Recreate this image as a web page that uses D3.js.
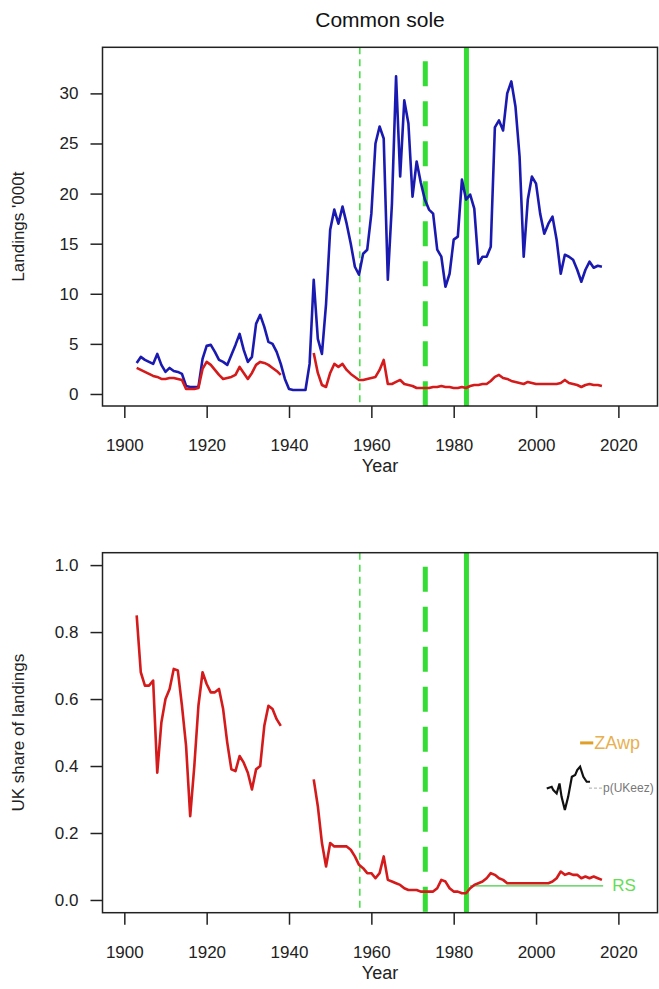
<!DOCTYPE html>
<html>
<head>
<meta charset="utf-8">
<script src="https://cdn.jsdelivr.net/npm/d3@7"></script>
<style>
  body { margin: 0; background: #fff; }
  svg text { font-family: "Liberation Sans", Arial, sans-serif; }
</style>
</head>
<body>
<div id="chart"></div>
<script>
// ---- data ----
const years = d3.range(1903, 2017);

// total landings, '000 t
const totalLandings = [
  3.1, 3.7, 3.4, 3.2, 3.0, 4.0, 2.9, 2.2, 2.6, 2.3,
  2.2, 2.0, 0.8, 0.7, 0.7, 0.7, 3.5, 4.8, 4.9, 4.2,
  3.4, 3.2, 2.9, 3.9, 4.9, 6.0, 4.4, 3.2, 3.7, 7.0,
  7.9, 6.7, 5.2, 5.0, 4.2, 3.0, 1.5, 0.5, 0.4, 0.4,
  0.4, 0.4, 3.0, 11.4, 5.5, 4.0, 9.0, 16.4, 18.4, 17.0,
  18.7, 17.0, 15.0, 12.7, 11.9, 14.0, 14.4, 18.0, 25.0, 26.7,
  25.5, 11.4, 19.0, 31.7, 21.7, 29.3, 27.0, 19.7, 23.2, 21.1,
  19.4, 18.4, 18.0, 14.4, 13.7, 10.7, 12.0, 15.4, 15.7, 21.4,
  19.4, 19.9, 18.5, 13.0, 13.7, 13.7, 14.7, 26.6, 27.3, 26.3,
  30.0, 31.2, 28.7, 23.7, 13.7, 19.4, 21.7, 21.0, 18.0, 16.0,
  17.0, 17.7, 15.4, 12.0, 13.9, 13.7, 13.4, 12.4, 11.2, 12.4,
  13.2, 12.6, 12.8, 12.7
];

// UK landings, '000 t (no record 1939-1945)
const ukLandings = [
  2.6, 2.4, 2.2, 2.0, 1.8, 1.7, 1.5, 1.5, 1.6, 1.6,
  1.5, 1.4, 0.5, 0.5, 0.5, 0.6, 2.5, 3.2, 2.9, 2.4,
  1.9, 1.5, 1.6, 1.7, 1.9, 2.7, 2.1, 1.5, 2.1, 2.9,
  3.2, 3.1, 2.9, 2.6, 2.3, 1.9, null, null, null, null,
  null, null, null, 4.1, 2.1, 0.9, 0.7, 2.1, 3.0, 2.7,
  3.0, 2.4, 2.0, 1.7, 1.4, 1.4, 1.5, 1.6, 1.7, 2.4,
  3.4, 1.0, 1.0, 1.2, 1.4, 1.0, 0.9, 0.8, 0.6, 0.6,
  0.6, 0.6, 0.7, 0.7, 0.8, 0.7, 0.7, 0.6, 0.6, 0.7,
  0.6, 0.8, 0.9, 0.9, 1.0, 1.0, 1.3, 1.7, 1.9, 1.6,
  1.5, 1.3, 1.2, 1.1, 1.0, 1.2, 1.1, 1.0, 1.0, 1.0,
  1.0, 1.0, 1.0, 1.1, 1.4, 1.1, 1.0, 0.9, 0.7, 0.9,
  1.0, 0.9, 0.9, 0.8
];

// UK share of landings
const ukShare = [
  0.85, 0.68, 0.64, 0.64, 0.655, 0.38, 0.53, 0.60, 0.63, 0.69,
  0.685, 0.58, 0.46, 0.25, 0.40, 0.58, 0.68, 0.645, 0.62, 0.62,
  0.63, 0.57, 0.47, 0.39, 0.385, 0.43, 0.41, 0.38, 0.33, 0.39,
  0.40, 0.52, 0.58, 0.57, 0.54, 0.52, null, null, null, null,
  null, null, null, 0.36, 0.28, 0.17, 0.10, 0.17, 0.16, 0.16,
  0.16, 0.16, 0.15, 0.13, 0.105, 0.095, 0.08, 0.08, 0.065, 0.08,
  0.13, 0.06, 0.055, 0.05, 0.045, 0.035, 0.03, 0.03, 0.03, 0.025,
  0.025, 0.025, 0.025, 0.035, 0.06, 0.055, 0.035, 0.025, 0.025, 0.02,
  0.02, 0.035, 0.045, 0.05, 0.055, 0.065, 0.08, 0.075, 0.065, 0.06,
  0.05, 0.05, 0.05, 0.05, 0.05, 0.05, 0.05, 0.05, 0.05, 0.05,
  0.05, 0.055, 0.065, 0.085, 0.075, 0.08, 0.075, 0.075, 0.065, 0.07,
  0.065, 0.07, 0.065, 0.06
];

// small p(UKeez) trace and reference levels in the lower panel
const pUKeezYears = [2002.6, 2003.8, 2004.2, 2005.0, 2005.7, 2006.2, 2007.0, 2007.8,
                     2008.7, 2009.5, 2010.0, 2010.7, 2011.5, 2012.3, 2013.1];
const pUKeezValues = [0.333, 0.338, 0.328, 0.318, 0.348, 0.308, 0.269, 0.308,
                      0.368, 0.373, 0.388, 0.398, 0.368, 0.353, 0.353];
const zawpYears = [2010.7, 2013.9];
const zawpValue = 0.469;
const rsYears = [1984, 2016.3];
const rsValue = 0.042;

// policy markers (years) and ticks
const markerYears = [1957.2, 1973.1, 1983.1];
const xTicks = [1900, 1920, 1940, 1960, 1980, 2000, 2020];
const yTicksTop = [0, 5, 10, 15, 20, 25, 30];
const yTicksBottom = [0, 0.2, 0.4, 0.6, 0.8, 1.0];

// ---- layout ----
const width = 659, height = 989;
const left = 102.5, right = 657.5;
const green = "#33dd33";
const markerStyles = [
  { width: 1.4, dash: "7,5", offset: 0 },
  { width: 5, dash: "25,15", offset: 26 },
  { width: 5, dash: null, offset: 0 }
];

const svg = d3.select("#chart")
  .append("svg")
    .attr("width", width)
    .attr("height", height);

const x = d3.scaleLinear().domain([1894.7, 2029.5]).range([left, right]);

function panel(top, bottom, y, yTicks, fmt, yTitle) {
  const g = svg.append("g");

  // policy marker lines
  markerYears.forEach((yr, i) => {
    const s = markerStyles[i];
    g.append("line")
      .attr("x1", x(yr)).attr("x2", x(yr))
      .attr("y1", top).attr("y2", bottom)
      .attr("stroke", green)
      .attr("stroke-width", s.width)
      .attr("stroke-dasharray", s.dash)
      .attr("stroke-dashoffset", s.offset);
  });

  // axes
  g.append("g")
    .attr("transform", `translate(0,${bottom})`)
    .call(d3.axisBottom(x).tickValues(xTicks).tickFormat(d3.format("d")).tickSize(12).tickPadding(21))
    .call(a => a.select(".domain").remove())
    .call(a => a.selectAll("line").attr("stroke", "#222").attr("stroke-width", 1.5))
    .call(a => a.selectAll("text").style("font-size", "17px").style("fill", "#222"));

  g.append("g")
    .attr("transform", `translate(${left},0)`)
    .call(d3.axisLeft(y).tickValues(yTicks).tickFormat(fmt).tickSize(12).tickPadding(12))
    .call(a => a.select(".domain").remove())
    .call(a => a.selectAll("line").attr("stroke", "#222").attr("stroke-width", 1.5))
    .call(a => a.selectAll("text").style("font-size", "17px").style("fill", "#222"));

  // frame
  g.append("rect")
    .attr("x", left).attr("y", top)
    .attr("width", right - left).attr("height", bottom - top)
    .attr("fill", "none")
    .attr("stroke", "#222")
    .attr("stroke-width", 1.5);

  g.append("text")
    .attr("x", (left + right) / 2)
    .attr("y", bottom + 66)
    .attr("text-anchor", "middle")
    .style("font-size", "18px")
    .style("fill", "#222")
    .text("Year");

  g.append("text")
    .attr("transform", `translate(18,${(top + bottom) / 2}) rotate(-90)`)
    .attr("text-anchor", "middle")
    .attr("dominant-baseline", "central")
    .style("font-size", "17px")
    .style("fill", "#222")
    .text(yTitle);

  return g;
}

// ---- top panel: landings ----
const yTop = d3.scaleLinear().domain([-1.2, 34.6]).range([406, 47.3]);
const gTop = panel(47.3, 406, yTop, yTicksTop, d3.format("d"), "Landings '000t");

const lineTop = d3.line()
  .defined(d => d[1] != null)
  .x(d => x(d[0]))
  .y(d => yTop(d[1]));

gTop.append("path")
  .datum(d3.zip(years, totalLandings))
  .attr("fill", "none")
  .attr("stroke", "#1a1ab0")
  .attr("stroke-width", 2.6)
  .attr("stroke-linejoin", "round")
  .attr("d", lineTop);

gTop.append("path")
  .datum(d3.zip(years, ukLandings))
  .attr("fill", "none")
  .attr("stroke", "#d41a1a")
  .attr("stroke-width", 2.6)
  .attr("stroke-linejoin", "round")
  .attr("d", lineTop);

svg.append("text")
  .attr("x", (left + right) / 2)
  .attr("y", 27)
  .attr("text-anchor", "middle")
  .style("font-size", "21px")
  .style("fill", "#111")
  .text("Common sole");

// ---- bottom panel: UK share ----
const yBot = d3.scaleLinear().domain([-0.038, 1.037]).range([912.7, 552.7]);
const gBot = panel(552.7, 912.7, yBot, yTicksBottom, d3.format(".1f"), "UK share of landings");

const lineBot = d3.line()
  .defined(d => d[1] != null)
  .x(d => x(d[0]))
  .y(d => yBot(d[1]));

gBot.append("path")
  .datum(rsYears.map(yr => [yr, rsValue]))
  .attr("fill", "none")
  .attr("stroke", "#44cc44")
  .attr("stroke-width", 1.3)
  .attr("d", lineBot);

gBot.append("path")
  .datum(d3.zip(years, ukShare))
  .attr("fill", "none")
  .attr("stroke", "#d41a1a")
  .attr("stroke-width", 2.6)
  .attr("stroke-linejoin", "round")
  .attr("d", lineBot);

gBot.append("path")
  .datum(d3.zip(pUKeezYears, pUKeezValues))
  .attr("fill", "none")
  .attr("stroke", "#111")
  .attr("stroke-width", 2.2)
  .attr("d", lineBot);

gBot.append("path")
  .datum(zawpYears.map(yr => [yr, zawpValue]))
  .attr("fill", "none")
  .attr("stroke", "#e0a028")
  .attr("stroke-width", 3)
  .attr("d", lineBot);

// labels for the lower-panel traces
const pEnd = pUKeezYears[pUKeezYears.length - 1];
gBot.append("line")
  .attr("x1", x(pEnd) - 1).attr("x2", x(pEnd) + 13)
  .attr("y1", yBot(0.334)).attr("y2", yBot(0.334))
  .attr("stroke", "#aaa")
  .attr("stroke-width", 1)
  .attr("stroke-dasharray", "3,2");

gBot.append("text")
  .attr("x", x(pEnd) + 13)
  .attr("y", yBot(0.334))
  .attr("dominant-baseline", "central")
  .style("font-size", "12px")
  .style("fill", "#777")
  .text("p(UKeez)");

gBot.append("text")
  .attr("x", x(zawpYears[1]) + 1)
  .attr("y", yBot(zawpValue))
  .attr("dominant-baseline", "central")
  .style("font-size", "18px")
  .style("fill", "#e8b050")
  .text("ZAwp");

gBot.append("text")
  .attr("x", x(rsYears[1]) + 9)
  .attr("y", yBot(rsValue))
  .attr("dominant-baseline", "central")
  .style("font-size", "17px")
  .style("fill", "#66dd55")
  .text("RS");
</script>
</body>
</html>
